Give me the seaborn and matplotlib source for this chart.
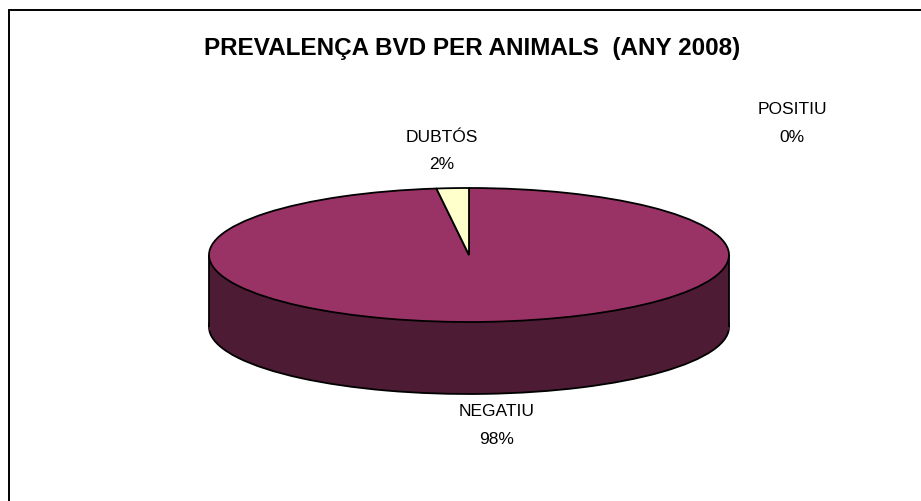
import matplotlib
matplotlib.use("Agg")
import matplotlib.pyplot as plt
import seaborn as sns
from matplotlib.lines import Line2D
from matplotlib.patches import Rectangle

sns.set_theme(style="white")
plt.rcParams['font.family'] = ['Liberation Sans', 'DejaVu Sans']

# ---- data ----
categories = ["POSITIU", "NEGATIU", "DUBTÓS"]
percent = [0, 98, 2]
pct_labels = ["0%", "98%", "2%"]
title = "PREVALENÇA BVD PER ANIMALS  (ANY 2008)"

top_colors = ["#9999FF", "#993366", "#FFFFCC"]
side_colors = ["#4C4C80", "#4D1B34", "#808066"]

W, H = 921, 502
fig = plt.figure(figsize=(W / 100, H / 100), dpi=100)
fig.patch.set_facecolor("white")

# ---- pie geometry in pixels ----
cx, cy = 469, 256      # centre of top ellipse
rx, ry = 260, 67       # radii of top ellipse
thick = 72             # side thickness
T = thick / ry         # in y-units
xm, ym = 0.05, 0.05
x0 = -1 - xm; x1 = 1 + xm
y0 = -1 - T - ym; y1 = 1 + ym
left_px = cx + x0 * rx
width_px = (x1 - x0) * rx
top_px = cy - y1 * ry
bottom_px = cy - y0 * ry
ax = fig.add_axes([left_px / W, 1 - bottom_px / H, width_px / W, (bottom_px - top_px) / H])

edge = dict(edgecolor="black", linewidth=1.3)
# bottom (side) pie
ax.pie(percent, colors=side_colors, startangle=90, counterclock=False,
       center=(0, -T), radius=1, wedgeprops=edge)
# side band
pad = 0.04
ax.add_patch(Rectangle((-1, -T - pad), 2, T + pad, facecolor=side_colors[1],
                       edgecolor="none", zorder=1.5))
ax.vlines([-1, 1], -T, 0, colors="black", linewidth=1.3, zorder=1.6)
# top pie
wedges, _ = ax.pie(percent, colors=top_colors, startangle=90, counterclock=False,
                   center=(0, 0), radius=1, wedgeprops=edge)
for w in wedges:
    w.set_zorder(2)
ax.set_aspect("auto")
ax.set_xlim(x0, x1)
ax.set_ylim(y0, y1)
ax.axis("off")

# ---- labels (pixel positions) ----
label_pos = {"POSITIU": (792, 110, 137), "NEGATIU": (497, 411, 440), "DUBTÓS": (442, 137, 165)}
for cat, pl in zip(categories, pct_labels):
    x, yc, yp = label_pos[cat]
    fig.text(x / W, 1 - yc / H, cat, ha="center", va="center", fontsize=12.5, color="black")
    fig.text(x / W, 1 - yp / H, pl, ha="center", va="center", fontsize=12.5, color="black")

fig.text(472 / W, 1 - 48 / H, title, ha="center", va="center",
         fontsize=17.5, fontweight="bold", color="black")

# ---- chart border (top and left visible) ----
fig.add_artist(Line2D([9 / W, 1], [1 - 11 / H, 1 - 11 / H], color="black", linewidth=1.4,
                      transform=fig.transFigure))
fig.add_artist(Line2D([9 / W, 9 / W], [1 - 11 / H, 0], color="black", linewidth=1.4,
                      transform=fig.transFigure))

fig.savefig("out.png", dpi=100, facecolor="white")
